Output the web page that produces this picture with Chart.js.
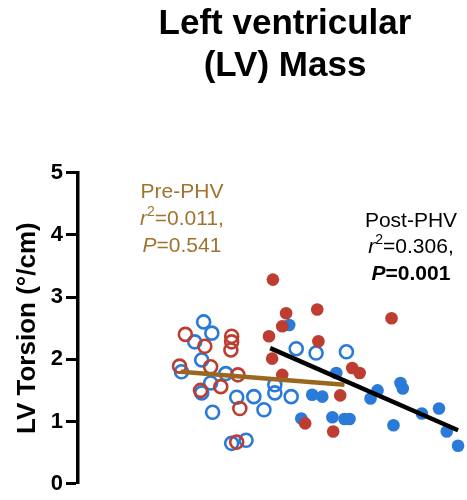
<!DOCTYPE html>
<html>
<head>
<meta charset="utf-8">
<script src="https://cdn.jsdelivr.net/npm/chart.js@4.4.1/dist/chart.umd.min.js"></script>
<style>
  html, body { margin: 0; padding: 0; background: #fff; }
  #wrap { width: 467px; height: 500px; }
</style>
</head>
<body>
<div id="wrap"><canvas id="chart-torsion"></canvas></div>
<script>
  // x is LV mass in arbitrary units (x axis is cropped in the source figure)
  const preBlueX = [32.3, 34.4, 30.0, 31.8, 26.6, 34.1, 31.8, 38.0, 40.8, 45.2, 47.8, 50.6, 50.6, 54.8, 56.1, 61.2, 69.0, 34.6, 39.5, 43.2];
  const preBlueY = [2.60, 2.42, 2.28, 1.99, 1.80, 1.62, 1.46, 1.77, 1.39, 1.40, 1.19, 1.59, 1.46, 1.40, 2.17, 2.10, 2.12, 1.15, 0.65, 0.70];
  const preRedX = [27.6, 32.6, 39.5, 39.5, 39.3, 26.1, 34.1, 36.7, 31.5, 41.1, 41.6, 40.8];
  const preRedY = [2.40, 2.21, 2.37, 2.28, 2.15, 1.89, 1.88, 1.56, 1.50, 1.75, 1.21, 0.67];
  const postBlueX = [54.3, 66.4, 60.2, 62.8, 57.4, 65.4, 68.5, 69.8, 77.0, 75.2, 82.9, 83.5, 88.4, 92.8, 94.8, 81.1, 97.7];
  const postBlueY = [2.55, 1.78, 1.43, 1.40, 1.05, 1.07, 1.04, 1.04, 1.50, 1.37, 1.62, 1.53, 1.13, 1.21, 0.84, 0.94, 0.61];
  const postRedX = [50.1, 53.5, 61.5, 52.5, 49.1, 61.8, 80.6, 49.9, 52.5, 70.5, 72.4, 67.4, 58.4, 65.6];
  const postRedY = [3.28, 2.74, 2.80, 2.53, 2.37, 2.29, 2.66, 2.01, 1.75, 1.86, 1.78, 1.42, 0.97, 0.84];
  const preFitX = [26.4, 68.5];
  const preFitY = [1.80, 1.59];
  const postFitX = [49.4, 97.7];
  const postFitY = [2.18, 0.86];
  const yTicks = [0, 1, 2, 3, 4, 5];

  const preStats = { r2: "0.011", p: "0.541" };
  const postStats = { r2: "0.306", p: "0.001" };

  const BLUE = "#2a7ad9";
  const RED = "#bd3d31";
  const BROWN_LINE = "#9a671f";
  const BROWN_TEXT = "#a2722f";
  const FONT = "'Liberation Sans', Arial, Helvetica, sans-serif";

  const pts = (xs, ys) => xs.map((x, i) => ({ x, y: ys[i] }));

  // draws a line of mixed-style text centred on cx
  function richLine(ctx, cx, y, segs, color) {
    let total = 0;
    segs.forEach((s) => {
      ctx.font = s.f;
      s.w = ctx.measureText(s.t).width;
      total += s.w;
    });
    let x = cx - total / 2;
    ctx.fillStyle = color;
    ctx.textAlign = "left";
    ctx.textBaseline = "alphabetic";
    segs.forEach((s) => {
      ctx.font = s.f;
      ctx.fillText(s.t, x, y + (s.dy || 0));
      x += s.w;
    });
  }

  const textPlugin = {
    id: "figureText",
    afterDraw: function (chart) {
      const ctx = chart.ctx;
      ctx.save();
      const tf = "bold 35px " + FONT;
      richLine(ctx, 285, 34, [{ t: "Left ventricular", f: tf }], "#000");
      richLine(ctx, 285, 76, [{ t: "(LV) Mass", f: tf }], "#000");

      const reg = "21px " + FONT;
      const ita = "italic 21px " + FONT;
      const sup = "14px " + FONT;
      richLine(ctx, 182, 198, [{ t: "Pre-PHV", f: reg }], BROWN_TEXT);
      richLine(ctx, 182, 225, [{ t: "r", f: ita }, { t: "2", f: sup, dy: -9 }, { t: "=" + preStats.r2 + ",", f: reg }], BROWN_TEXT);
      richLine(ctx, 182, 252, [{ t: "P", f: ita }, { t: "=" + preStats.p, f: reg }], BROWN_TEXT);

      richLine(ctx, 411, 227, [{ t: "Post-PHV", f: reg }], "#000");
      richLine(ctx, 411, 253, [{ t: "r", f: ita }, { t: "2", f: sup, dy: -9 }, { t: "=" + postStats.r2 + ",", f: reg }], "#000");
      richLine(ctx, 411, 280, [{ t: "P", f: "italic bold 21px " + FONT }, { t: "=" + postStats.p, f: "bold 21px " + FONT }], "#000");
      ctx.restore();
    },
  };

  const openPoint = (color) => ({
    type: "scatter",
    pointStyle: "circle",
    pointRadius: 6.5,
    pointHoverRadius: 6.5,
    pointBorderWidth: 2.6,
    pointBorderColor: color,
    pointBackgroundColor: "rgba(0,0,0,0)",
    clip: false,
  });
  const filledPoint = (color) => ({
    type: "scatter",
    pointStyle: "circle",
    pointRadius: 6.3,
    pointHoverRadius: 6.3,
    pointBorderWidth: 0,
    pointBorderColor: color,
    pointBackgroundColor: color,
    clip: false,
  });
  const fitLine = (color) => ({
    type: "line",
    borderColor: color,
    borderWidth: 4.5,
    pointRadius: 0,
    fill: false,
    clip: false,
  });

  const chartTorsion = new Chart(document.getElementById("chart-torsion"), {
    data: {
      datasets: [
        Object.assign({ label: "Post-PHV fit", data: pts(postFitX, postFitY), order: 0 }, fitLine("#000")),
        Object.assign({ label: "Pre-PHV fit", data: pts(preFitX, preFitY), order: 1 }, fitLine(BROWN_LINE)),
        Object.assign({ label: "Post-PHV red", data: pts(postRedX, postRedY), order: 2 }, filledPoint(RED)),
        Object.assign({ label: "Post-PHV blue", data: pts(postBlueX, postBlueY), order: 3 }, filledPoint(BLUE)),
        Object.assign({ label: "Pre-PHV red", data: pts(preRedX, preRedY), order: 4 }, openPoint(RED)),
        Object.assign({ label: "Pre-PHV blue", data: pts(preBlueX, preBlueY), order: 5 }, openPoint(BLUE)),
      ],
    },
    options: {
      responsive: true,
      maintainAspectRatio: false,
      animation: false,
      layout: { autoPadding: false, padding: { top: 172.5, bottom: 12, left: 0, right: 0 } },
      plugins: {
        legend: { display: false },
        tooltip: { enabled: false },
        title: { display: false },
      },
      scales: {
        x: {
          type: "linear",
          display: false,
          min: 0,
          max: 100,
        },
        y: {
          type: "linear",
          min: 0,
          max: 5,
          afterBuildTicks: (scale) => {
            scale.ticks = yTicks.map((v) => ({ value: v }));
          },
          afterFit: (scale) => {
            scale.width = 78;
          },
          border: { display: true, color: "#000", width: 3.5 },
          grid: {
            drawOnChartArea: false,
            drawTicks: true,
            tickLength: 12,
            tickWidth: 3,
            tickColor: "#000",
          },
          ticks: {
            color: "#000",
            padding: 3,
            font: { family: FONT, size: 22, weight: "bold" },
          },
          title: {
            display: true,
            text: "LV Torsion (°/cm)",
            color: "#000",
            padding: { top: 12, bottom: 0 },
            font: { family: FONT, size: 26, weight: "bold" },
          },
        },
      },
    },
    plugins: [textPlugin],
  });
</script>
</body>
</html>
